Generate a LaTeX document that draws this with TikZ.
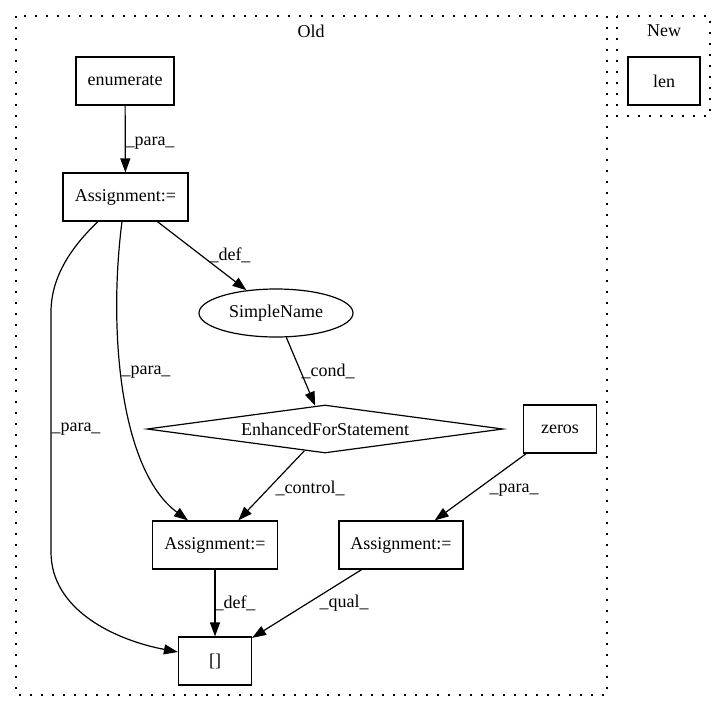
\documentclass[tikz,border=0pt]{standalone}
\usepackage{fontspec}
\setmainfont{Liberation Serif}
\usetikzlibrary{arrows.meta,shapes.geometric}
\tikzset{
  box/.style={draw, line width=1.2pt, rectangle, inner sep=0pt, minimum height=48pt},
  ell/.style={draw, line width=1.2pt, ellipse, inner sep=0pt, minimum width=154pt, minimum height=48pt},
  dia/.style={draw, line width=1.2pt, diamond, aspect=7.4, inner sep=0pt, minimum width=356pt, minimum height=48pt},
  cluster/.style={draw, line width=1.6pt, dash pattern=on 1.8pt off 9.2pt},
  edge/.style={draw, line width=1.2pt, -{Triangle[length=14pt,width=10pt]}},
  lab/.style={inner sep=0pt},
}
\begin{document}
\begin{tikzpicture}[x=1pt,y=-1pt,font=\fontsize{18}{21}\selectfont]
\useasboundingbox (0,0) rectangle (727,712);
% clusters
\path[cluster] (16,16) rectangle (607,695);
\path[cluster] (617,16) rectangle (710,116);
\node[lab] (oldlab) at (311,31) {Old};
\node[lab] (newlab) at (664,31) {New};
% nodes
\node[box, minimum width=72pt] (len) at (664,81) {len};
\node[box, minimum width=98pt] (enum) at (125,81) {enumerate};
\node[box, minimum width=125pt] (A1) at (125.5,197) {Assignment:=};
\node[ell] (SN) at (276,313) {SimpleName};
\node[dia] (EFS) at (325,429) {EnhancedForStatement};
\node[box, minimum width=73pt] (zeros) at (560,429) {zeros};
\node[box, minimum width=125pt] (A2) at (215,545) {Assignment:=};
\node[box, minimum width=124pt] (A3) at (401,545) {Assignment:=};
\node[box, minimum width=73pt] (B) at (215,661) {[]};
% edges
\path[edge] (enum) -- (A1);
\path[edge] (A1) -- (SN);
\path[edge] ([xshift=-3.5pt]A1.south) .. controls (108,330) and (120,470) .. ([xshift=-27pt]A2.north);
\path[edge] ([xshift=-27.5pt]A1.south) .. controls (68,250) and (51,280) .. (51,312) -- (51,552) .. controls (51,610) and (115,640) .. ([yshift=9pt]B.west);
\path[edge] (SN) -- (EFS);
\path[edge] (EFS) -- (A2);
\path[edge] (zeros) -- (A3);
\path[edge] (A2) -- (B);
\path[edge] (A3) -- (B);
% labels
\node[lab] (l1) at (150,143) {\_para\_};
\node[lab] (l2) at (230,255) {\_def\_};
\node[lab] (l3) at (146,372) {\_para\_};
\node[lab] (l4) at (76,429) {\_para\_};
\node[lab] (l5) at (328,371) {\_cond\_};
\node[lab] (l6) at (310,488) {\_control\_};
\node[lab] (l7) at (514,490) {\_para\_};
\node[lab] (l8) at (235,603) {\_def\_};
\node[lab] (l9) at (344,603) {\_qual\_};
\end{tikzpicture}
\end{document}
